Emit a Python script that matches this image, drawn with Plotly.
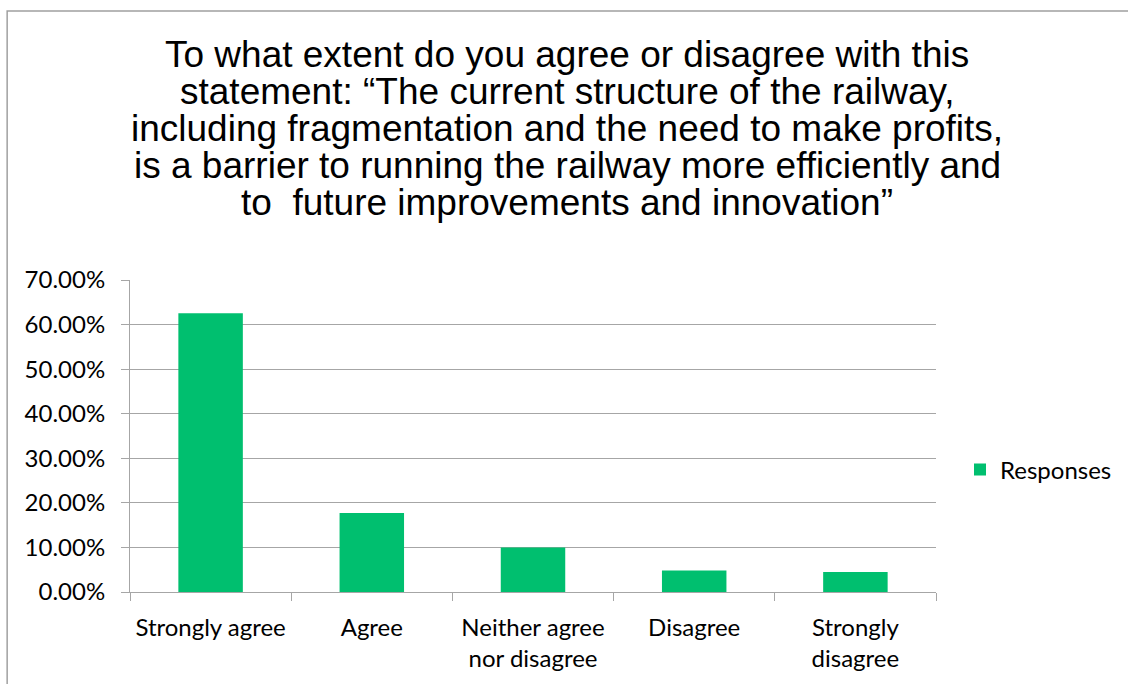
import plotly.graph_objects as go

categories = ["Strongly agree", "Agree", "Neither agree<br>nor disagree", "Disagree", "Strongly<br>disagree"]
values = [0.6256, 0.177, 0.100, 0.0484, 0.0448]
series_name = "Responses"
y_ticks = [0, 0.1, 0.2, 0.3, 0.4, 0.5, 0.6, 0.7]
y_tick_labels = ["0.00%", "10.00%", "20.00%", "30.00%", "40.00%", "50.00%", "60.00%", "70.00%"]
title_lines = [
    "To what extent do you agree or disagree with this",
    "statement: \u201cThe current structure of the railway,",
    "including fragmentation and the need to make profits,",
    "is a barrier to running the railway more efficiently and",
    "to  future improvements and innovation\u201d",
]

W, H = 1128, 684
L, R, T, B = 130, 191, 280, 92
pw, ph = W - L - R, H - T - B

tick_font = dict(family="Lato, Carlito, Calibri, sans-serif", size=24, color="#000000")
grid = "#A6A6A6"

fig = go.Figure()
fig.add_trace(go.Bar(x=categories, y=values, name=series_name,
                     marker=dict(color="#00BF6F", line=dict(width=0)),
                     width=0.4, showlegend=True))

fig.update_layout(
    width=W, height=H,
    margin=dict(l=L, r=R, t=T, b=B),
    paper_bgcolor="white", plot_bgcolor="white",
    showlegend=True,
    legend=dict(x=(960 - L) / pw, y=(592 - 470) / ph, xanchor="left", yanchor="middle",
                font=tick_font, bgcolor="rgba(0,0,0,0)"),
    xaxis=dict(type="category", showline=True, linecolor=grid, linewidth=1,
               ticks="outside", tickson="boundaries", ticklen=8, tickcolor=grid,
               tickfont=tick_font, showgrid=False, fixedrange=True, ticklabelstandoff=14),
    yaxis=dict(range=[0, 0.7], tickvals=y_ticks, ticktext=y_tick_labels,
               showline=True, linecolor=grid, linewidth=1,
               ticks="outside", ticklen=8, tickcolor=grid,
               showgrid=True, gridcolor=grid, gridwidth=1,
               tickfont=tick_font, zeroline=False, fixedrange=True, ticklabelstandoff=11),
    bargap=0.6,
)

# title, one annotation per line for the tight line spacing
title_y_centers = [55, 92, 128, 165, 202]
for line, yc in zip(title_lines, title_y_centers):
    fig.add_annotation(text=line, xref="paper", yref="paper",
                       x=(568 - L) / pw, y=(592 - yc) / ph, xanchor="center", yanchor="middle",
                       showarrow=False,
                       font=dict(family="Liberation Sans, Arial, sans-serif", size=37, color="#000000"))

# outer chart frame
fig.add_shape(type="rect", xref="paper", yref="paper",
              x0=(7 - L) / pw, x1=(W + 5 - L) / pw,
              y0=(592 - (H + 5)) / ph, y1=(592 - 11) / ph,
              line=dict(color="#A0A0A0", width=1.5), fillcolor="rgba(0,0,0,0)", layer="below")

fig.write_html("out.html")
